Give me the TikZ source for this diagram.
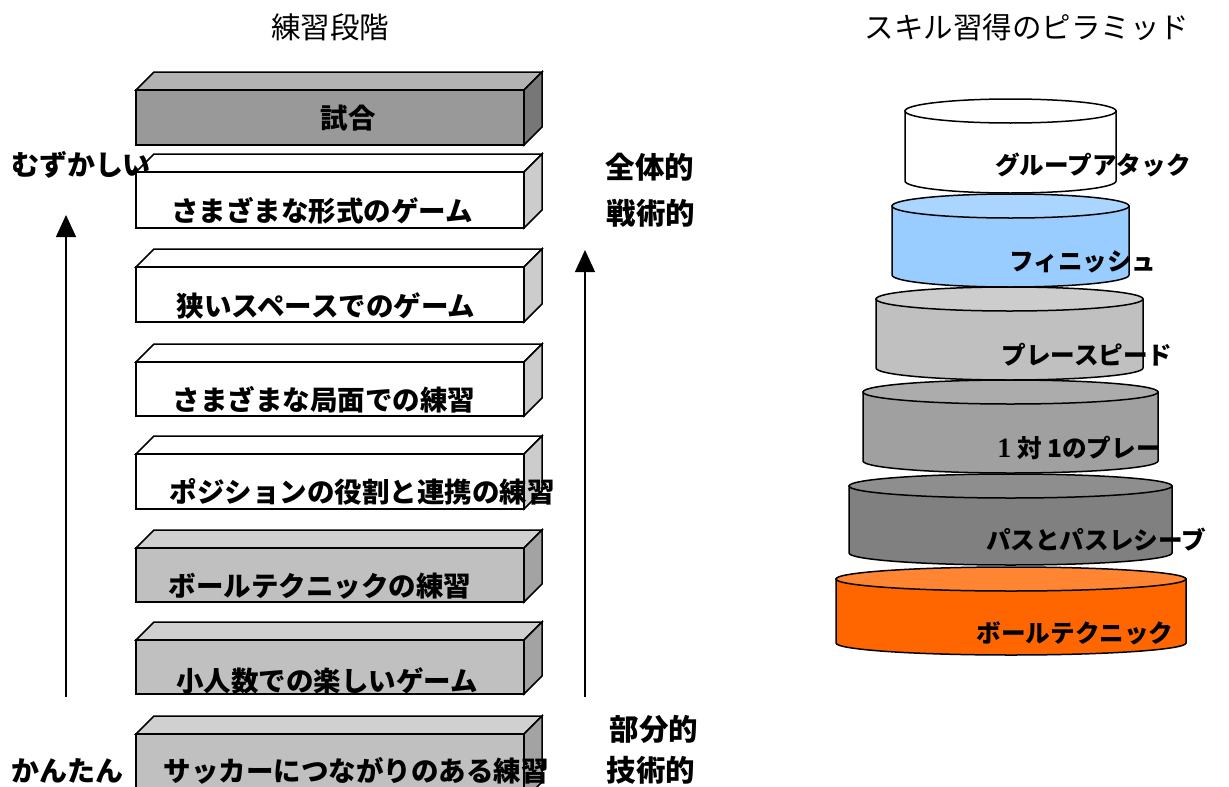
\documentclass[tikz,border=0pt]{standalone}
\usepackage{fontspec}
\setmainfont{Noto Sans CJK JP}
\newfontfamily\serifone{Liberation Serif}
\usetikzlibrary{arrows.meta}
\definecolor{gameF}{HTML}{999999}
\definecolor{gameT}{HTML}{B3B3B3}
\definecolor{gameS}{HTML}{777777}
\definecolor{whiteS}{HTML}{CCCCCC}
\definecolor{grayF}{HTML}{C0C0C0}
\definecolor{grayT}{HTML}{D0D0D0}
\definecolor{grayS}{HTML}{A3A3A3}
\definecolor{blueB}{HTML}{99CCFF}
\definecolor{blueT}{HTML}{AAD5FF}
\definecolor{gthreeB}{HTML}{C0C0C0}
\definecolor{gthreeT}{HTML}{CDCDCD}
\definecolor{gfourB}{HTML}{A0A0A0}
\definecolor{gfourT}{HTML}{ACACAC}
\definecolor{gfiveB}{HTML}{808080}
\definecolor{gfiveT}{HTML}{8E8E8E}
\definecolor{orangeB}{HTML}{FF6600}
\definecolor{orangeT}{HTML}{FF8533}
\tikzset{
  edge line/.style={draw=black,line width=1.5pt,line join=miter},
  boxtext/.style={font=\bfseries\fontsize{27.5}{32}\selectfont,inner sep=0pt,anchor=center},
  sidetext/.style={font=\bfseries\fontsize{28}{32}\selectfont,inner sep=0pt,anchor=center},
  sidetextb/.style={font=\bfseries\fontsize{29.5}{33}\selectfont,inner sep=0pt,anchor=center},
  title/.style={font=\fontsize{29.5}{34}\selectfont,inner sep=0pt,anchor=center},
  cyltext/.style={font=\bfseries\fontsize{24.6}{29}\selectfont,inner sep=0pt,anchor=center},
  uparrow/.style={line width=1.3pt,-{Triangle[width=20pt,length=22pt]}}
}
% #1 top y of front, #2 bottom y, #3 front, #4 top, #5 side
\newcommand{\stageblock}[5]{%
  \filldraw[edge line,fill=#4] (136,#1) -- (154,{#1-18}) -- (542,{#1-18}) -- (524,#1) -- cycle;
  \filldraw[edge line,fill=#5] (524,#1) -- (542,{#1-18}) -- (542,{#2-18}) -- (524,#2) -- cycle;
  \filldraw[edge line,fill=#3] (136,#1) rectangle (524,#2);
}
% #1 cx, #2 rx, #3 top y, #4 bottom y, #5 body, #6 top
\newcommand{\cylblock}[6]{%
  \filldraw[edge line,fill=#5] ({#1-#2},#3) -- ({#1-#2},#4) arc[start angle=180,end angle=0,x radius=#2,y radius=12] -- ({#1+#2},#3) -- cycle;
  \filldraw[edge line,fill=#6] (#1,#3) ellipse [x radius=#2,y radius=12];
}
\begin{document}
\begin{tikzpicture}[x=1pt,y=-1pt]
\useasboundingbox (0,0) rectangle (1229,787);
\clip (0,0) rectangle (1229,787);
% titles
\node[title] (t1) at (330,27) {練習段階};
\node[title] (t2) at (1027,27) {スキル習得のピラミッド};
% stages
\stageblock{90}{145}{gameF}{gameT}{gameS}
\stageblock{172}{228}{white}{white}{whiteS}
\stageblock{267}{322}{white}{white}{whiteS}
\stageblock{362}{416}{white}{white}{whiteS}
\stageblock{454}{509}{white}{white}{whiteS}
\stageblock{548}{602}{grayF}{grayT}{grayS}
\stageblock{640}{694}{grayF}{grayT}{grayS}
\stageblock{734}{800}{grayF}{grayT}{grayS}
\node[boxtext] (s1) at (348,118) {試合};
\node[boxtext] (s2) at (322,211) {さまざまな形式のゲーム};
\node[boxtext] (s3) at (326,306) {狭いスペースでのゲーム};
\node[boxtext] (s4) at (324,400) {さまざまな局面での練習};
\node[boxtext] (s5) at (362,492) {ポジションの役割と連携の練習};
\node[boxtext] (s6) at (320,586) {ボールテクニックの練習};
\node[boxtext] (s7) at (327,681) {小人数での楽しいゲーム};
\node[boxtext] (s8) at (356,771) {サッカーにつながりのある練習};
% side labels
\node[sidetext] (hard) at (81,165) {むずかしい};
\node[sidetext] (easy) at (67,771) {かんたん};
\node[sidetextb] (whole) at (650,167) {全体的};
\node[sidetextb] (tact) at (651,213) {戦術的};
\node[sidetextb] (part) at (654,729) {部分的};
\node[sidetextb] (tech) at (651,770) {技術的};
% arrows
\coordinate (la0) at (66,697);
\coordinate (la1) at (66,215);
\coordinate (ra0) at (585,697);
\coordinate (ra1) at (585,250);
\draw[uparrow] (la0) -- (la1);
\draw[uparrow] (ra0) -- (ra1);
% pyramid
\cylblock{1010.5}{105.5}{111}{181}{white}{white}
\cylblock{1010.5}{118.5}{206}{275}{blueB}{blueT}
\cylblock{1009.5}{133.5}{299}{368}{gthreeB}{gthreeT}
\cylblock{1010.5}{147.5}{392}{461}{gfourB}{gfourT}
\cylblock{1010.5}{161.5}{486}{553}{gfiveB}{gfiveT}
\cylblock{1011}{175}{579}{643}{orangeB}{orangeT}
\node[cyltext] (p1) at (1093,165) {グループアタック};
\node[cyltext] (p2) at (1083,262) {フィニッシュ};
\node[cyltext] (p3) at (1087,355) {プレースピード};
\node[cyltext] (p4) at (1079,448) {{\serifone\bfseries\fontsize{28}{30}\selectfont 1} 対 1のプレー};
\node[cyltext] (p5) at (1096,540) {パスとパスレシーブ};
\node[cyltext] (p6) at (1075,633) {ボールテクニック};
\end{tikzpicture}
\end{document}
